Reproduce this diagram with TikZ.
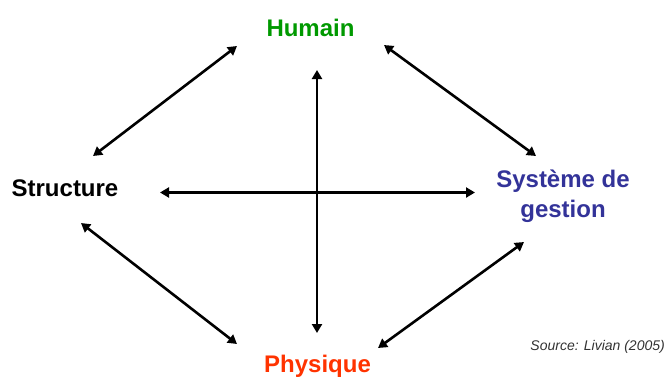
\documentclass[tikz,border=0pt]{standalone}
\usepackage{fontspec}
\setmainfont{Liberation Sans}
\usepackage{xcolor}
\usepackage{tikz}
\usetikzlibrary{arrows.meta}

\definecolor{humaingreen}{RGB}{0,153,0}
\definecolor{gestionblue}{RGB}{51,51,153}
\definecolor{physiquered}{RGB}{255,51,0}

\begin{document}
\begin{tikzpicture}[x=1pt,y=-1pt,
  pole/.style={font=\bfseries\fontsize{24}{30}\selectfont, inner sep=0pt, anchor=base},
  link/.style={{Triangle[length=9pt,width=10pt]}-{Triangle[length=9pt,width=10pt]}, line width=2.6pt}]
  \useasboundingbox (0,0) rectangle (666,376);

  \node[pole, text=humaingreen] (humain) at (310.5,36) {Humain};
  \node[pole] (structure) at (65,196) {Structure};
  \node[pole, text=gestionblue, align=center] (gestion) at (563,217) {Système de\\gestion};
  \node[pole, text=physiquered] (physique) at (317.5,372) {Physique};
  \node[font=\itshape\fontsize{14}{16}\selectfont, text=black!80, inner sep=0pt, anchor=base east]
    (source) at (665,350) {Source: Livian (2005)};

  % ends of the connectors
  \coordinate (hs) at (237,46);
  \coordinate (sh) at (93,156);
  \coordinate (hg) at (384,45);
  \coordinate (gh) at (536,156);
  \coordinate (sp) at (81,223);
  \coordinate (ps) at (237,344);
  \coordinate (gp) at (524,242);
  \coordinate (pg) at (378,348);
  \coordinate (hp) at (317,70);
  \coordinate (ph) at (317,333);
  \coordinate (sg) at (160,192.5);
  \coordinate (gs) at (475,192.5);

  \draw[link] (hs) -- (sh);
  \draw[link] (hg) -- (gh);
  \draw[link] (sp) -- (ps);
  \draw[link] (gp) -- (pg);
  \draw[link] (hp) -- (ph);
  \draw[link] (sg) -- (gs);
\end{tikzpicture}
\end{document}
